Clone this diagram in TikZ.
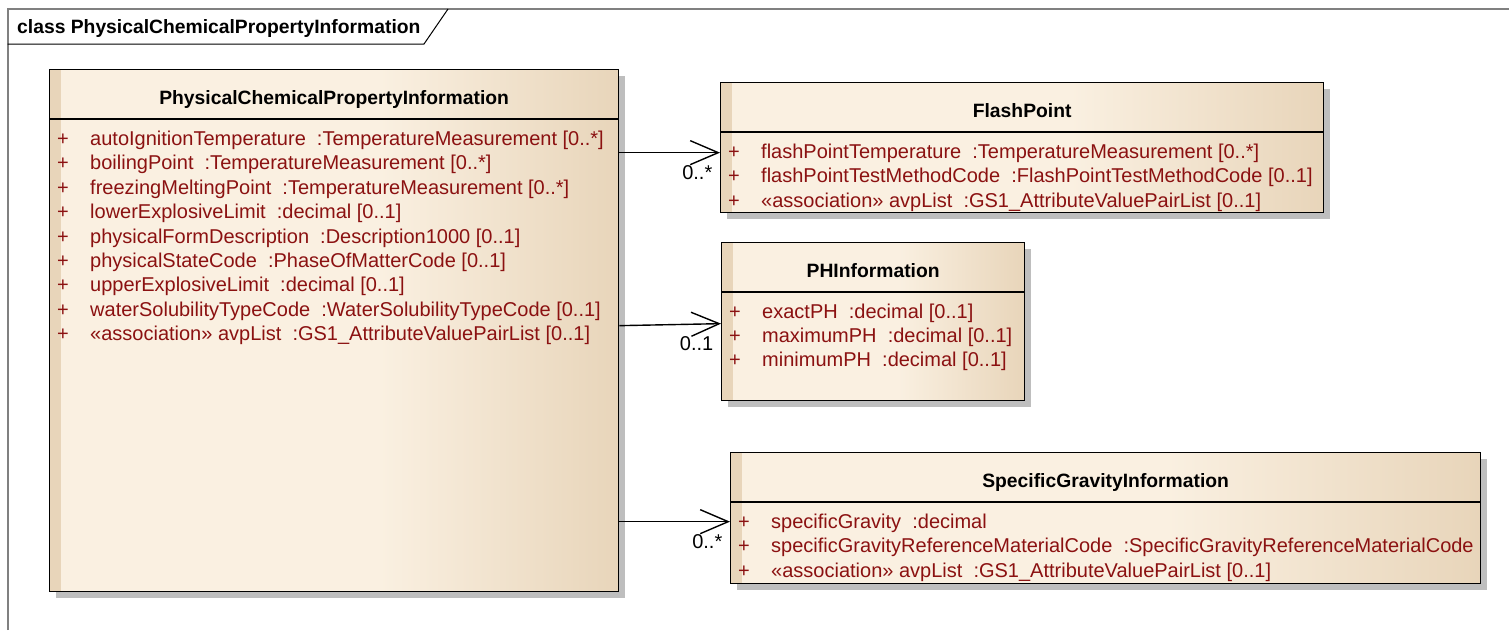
\documentclass[tikz,border=0pt]{standalone}
\usepackage{fontspec}
\setmainfont{Liberation Sans}
\usetikzlibrary{arrows.meta,shadows}
\definecolor{EAcream}{HTML}{FAF0E1}
\definecolor{EAtan}{HTML}{E8D5BA}
\definecolor{EAred}{HTML}{8B1111}
\definecolor{EAshadow}{HTML}{BEBEBE}
\definecolor{EAframe}{HTML}{808080}
\pgfdeclarehorizontalshading{classfill}{100bp}{color(0bp)=(EAcream); color(54bp)=(EAcream); color(75bp)=(EAtan); color(100bp)=(EAtan)}
\newcommand{\umlattr}[1]{\makebox[33pt][l]{+}#1}

\tikzset{
  classbox/.style={draw, line width=1.3pt, anchor=north west, shade, shading=classfill, inner sep=0pt,
    drop shadow={shadow xshift=6pt, shadow yshift=-6pt, fill=EAshadow, opacity=1},
    path picture={\fill[EAtan] (path picture bounding box.north west) rectangle ([xshift=11pt]path picture bounding box.south west);}},
  classname/.style={font=\fontsize{19.3}{24}\selectfont\bfseries, inner sep=0pt},
  attr/.style={font=\fontsize{20}{24}\selectfont, text=EAred, anchor=base west, inner sep=0pt},
  assoc/.style={line width=1.4pt, -{Straight Barb[length=28pt,width=24pt]}},
  mult/.style={font=\fontsize{20}{24}\selectfont, anchor=north east, inner sep=0pt, xshift=-7pt, yshift=-12pt},
}

\begin{document}
\begin{tikzpicture}[x=1pt,y=-1pt]
    \useasboundingbox (0,0) rectangle (1509,630);

    % diagram frame
    \draw[EAframe, line width=2pt] (7.5,630) -- (7.5,9) -- (1509,9);
    \draw[line width=1pt] (7.5,44) -- (424,44) -- (448,9);
    \node[classname, anchor=west] (diagtitle) at (17,28.5) {class PhysicalChemicalPropertyInformation};

    % classes
    \node[classbox, minimum width=569pt, minimum height=522pt] (pcp) at (49,69) {};
    \node[classbox, minimum width=603pt, minimum height=130pt] (fp) at (720,82) {};
    \node[classbox, minimum width=303pt, minimum height=158pt] (ph) at (721,242) {};
    \node[classbox, minimum width=750pt, minimum height=131pt] (sg) at (730,452) {};

    \draw[line width=1.3pt] ([yshift=-50pt]pcp.north west) -- ([yshift=-50pt]pcp.north east);
    \draw[line width=1.3pt] ([yshift=-50pt]fp.north west) -- ([yshift=-50pt]fp.north east);
    \draw[line width=1.3pt] ([yshift=-50pt]ph.north west) -- ([yshift=-50pt]ph.north east);
    \draw[line width=1.3pt] ([yshift=-50pt]sg.north west) -- ([yshift=-50pt]sg.north east);

    \node[classname] (pcpname) at ([yshift=-30.5pt]pcp.north) {PhysicalChemicalPropertyInformation};
    \node[classname] (fpname) at ([yshift=-29pt]fp.north) {FlashPoint};
    \node[classname] (phname) at ([yshift=-29pt]ph.north) {PHInformation};
    \node[classname] (sgname) at ([yshift=-30pt]sg.north) {SpecificGravityInformation};

    % attributes
    \node[attr] (pcp1) at (57,145.5) {\umlattr{autoIgnitionTemperature~~:TemperatureMeasurement [0..*]}};
    \node[attr] (pcp2) at (57,169.9) {\umlattr{boilingPoint~~:TemperatureMeasurement [0..*]}};
    \node[attr] (pcp3) at (57,194.3) {\umlattr{freezingMeltingPoint~~:TemperatureMeasurement [0..*]}};
    \node[attr] (pcp4) at (57,218.7) {\umlattr{lowerExplosiveLimit~~:decimal [0..1]}};
    \node[attr] (pcp5) at (57,243.1) {\umlattr{physicalFormDescription~~:Description1000 [0..1]}};
    \node[attr] (pcp6) at (57,267.5) {\umlattr{physicalStateCode~~:PhaseOfMatterCode [0..1]}};
    \node[attr] (pcp7) at (57,291.9) {\umlattr{upperExplosiveLimit~~:decimal [0..1]}};
    \node[attr] (pcp8) at (57,316.3) {\umlattr{waterSolubilityTypeCode~~:WaterSolubilityTypeCode [0..1]}};
    \node[attr] (pcp9) at (57,340.7) {\umlattr{«association» avpList~~:GS1\_AttributeValuePairList [0..1]}};

    \node[attr] (fp1) at (728,158.5) {\umlattr{flashPointTemperature~~:TemperatureMeasurement [0..*]}};
    \node[attr] (fp2) at (728,182.9) {\umlattr{flashPointTestMethodCode~~:FlashPointTestMethodCode [0..1]}};
    \node[attr] (fp3) at (728,207.3) {\umlattr{«association» avpList~~:GS1\_AttributeValuePairList [0..1]}};

    \node[attr] (ph1) at (729,318) {\umlattr{exactPH~~:decimal [0..1]}};
    \node[attr] (ph2) at (729,342.4) {\umlattr{maximumPH~~:decimal [0..1]}};
    \node[attr] (ph3) at (729,366.8) {\umlattr{minimumPH~~:decimal [0..1]}};

    \node[attr] (sg1) at (738,528.5) {\umlattr{specificGravity~~:decimal}};
    \node[attr] (sg2) at (738,552.9) {\umlattr{specificGravityReferenceMaterialCode~~:SpecificGravityReferenceMaterialCode}};
    \node[attr] (sg3) at (738,577.3) {\umlattr{«association» avpList~~:GS1\_AttributeValuePairList [0..1]}};

    % associations
    \coordinate (fpin) at ([yshift=-5pt]fp.west);
    \coordinate (phin) at ([yshift=-2pt]ph.west);
    \coordinate (sgin) at ([yshift=-3.5pt]sg.west);
    \draw[assoc] (pcp.east |- fpin) -- (fpin) node[mult] (fpmult) {0..*};
    \draw[assoc] ([yshift=-2pt]pcp.east |- phin) -- (phin) node[mult] (phmult) {0..1};
    \draw[assoc] (pcp.east |- sgin) -- (sgin) node[mult] (sgmult) {0..*};
  \end{tikzpicture}
\end{document}
